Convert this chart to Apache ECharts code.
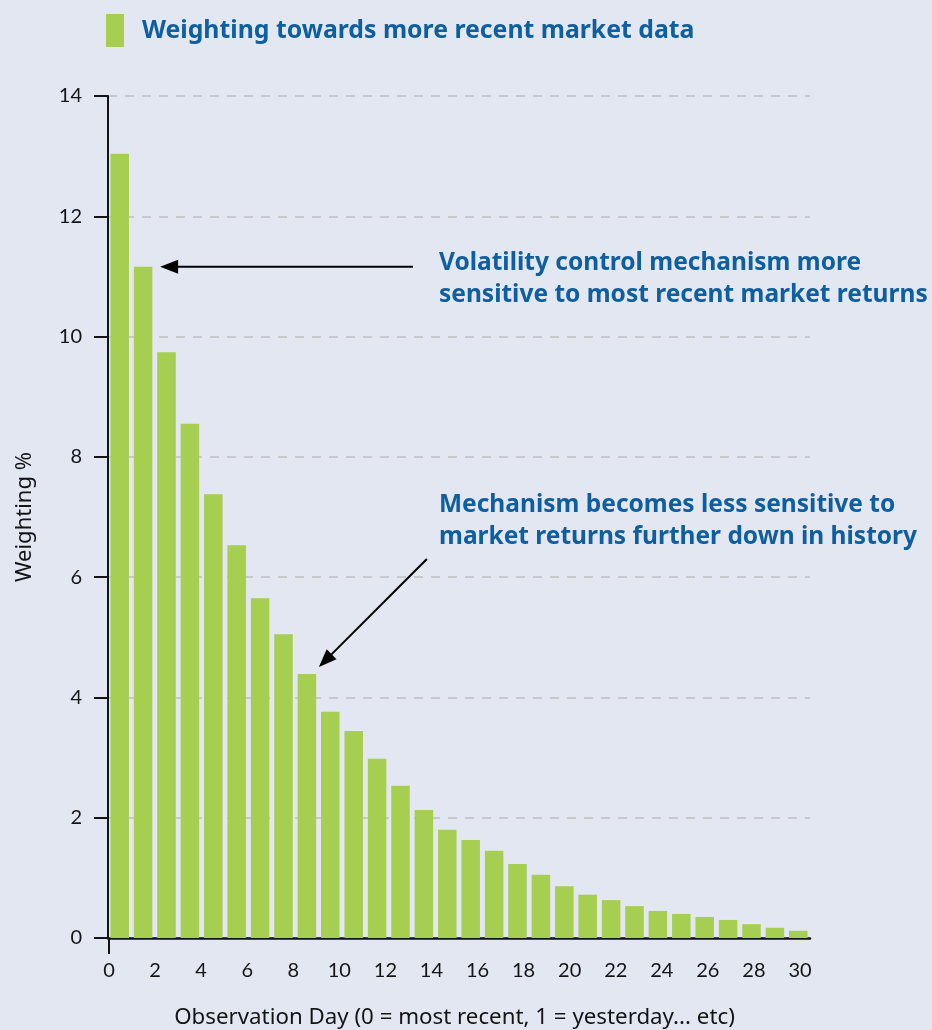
<!DOCTYPE html>
<html>
<head>
<meta charset="utf-8">
<script src="https://cdn.jsdelivr.net/npm/echarts@6/dist/echarts.min.js"></script>
<style>
  html, body { margin: 0; padding: 0; background: #e3e7f2; }
  #chart { width: 932px; height: 1030px; }
</style>
</head>
<body>
<div id="chart"></div>
<script>
const BLUE = '#0f5fa0';
const GREEN = '#a6ce50';
const INK = '#141414';
const FONT = 'Lato, "Noto Sans", sans-serif';
const WIDE_FONT = '"Noto Sans", Lato, sans-serif';

// observation days, one bar each
const DAYS = ['0', '1', '2', '3', '4', '5', '6', '7', '8', '9',
  '10', '11', '12', '13', '14', '15', '16', '17', '18', '19',
  '20', '21', '22', '23', '24', '25', '26', '27', '28', '29'];

// weighting %
const WEIGHTS = [13.04, 11.16, 9.74, 8.55, 7.38, 6.53, 5.65, 5.05, 4.39, 3.76,
  3.44, 2.98, 2.53, 2.13, 1.80, 1.63, 1.45, 1.23, 1.05, 0.86,
  0.72, 0.63, 0.53, 0.45, 0.40, 0.35, 0.30, 0.23, 0.17, 0.12];

const X_TICKS = [0, 2, 4, 6, 8, 10, 12, 14, 16, 18, 20, 22, 24, 26, 28, 30];
const Y_TICKS = [0, 2, 4, 6, 8, 10, 12, 14];

const LEGEND_TEXT = 'Weighting towards more recent market data';
const NOTE_RECENT = 'Volatility control mechanism more\nsensitive to most recent market returns';
const NOTE_HISTORY = 'Mechanism becomes less sensitive to\nmarket returns further down in history';

let chart = echarts.init(document.getElementById('chart'), null, { renderer: 'canvas' });

let option = {
  backgroundColor: '#e3e7f2',
  animation: false,
  textStyle: { fontFamily: FONT },
  legend: {
    left: 106,
    top: 14,
    padding: 0,
    itemWidth: 18,
    itemHeight: 33,
    icon: 'rect',
    data: [LEGEND_TEXT],
    textStyle: {
      color: BLUE,
      fontSize: 24.8,
      fontWeight: 'bold',
      fontFamily: WIDE_FONT,
      padding: [0, 0, 0, 13]
    }
  },
  grid: [
    { left: 108, top: 96, width: 702, height: 842 },
    { left: 109, top: 938, width: 691, height: 1 }
  ],
  xAxis: [
    {
      type: 'category',
      gridIndex: 0,
      data: DAYS,
      boundaryGap: true,
      axisLine: { lineStyle: { color: INK, width: 2.5 } },
      axisTick: { show: false },
      axisLabel: { show: false }
    },
    {
      type: 'value',
      gridIndex: 1,
      min: X_TICKS[0],
      max: X_TICKS[X_TICKS.length - 1],
      position: 'bottom',
      axisLine: { show: false },
      splitLine: { show: false },
      axisTick: {
        show: true,
        customValues: [0],
        length: 15,
        lineStyle: { color: INK, width: 2 }
      },
      axisLabel: {
        customValues: X_TICKS,
        color: INK,
        fontSize: 20,
        fontFamily: FONT,
        margin: 22
      },
      name: 'Observation Day (0 = most recent, 1 = yesterday... etc)',
      nameLocation: 'middle',
      nameGap: 68,
      nameTextStyle: { color: INK, fontSize: 22.3, fontFamily: WIDE_FONT }
    }
  ],
  yAxis: [
    {
      type: 'value',
      gridIndex: 0,
      min: Y_TICKS[0],
      max: Y_TICKS[Y_TICKS.length - 1],
      interval: 2,
      axisLine: { show: true, lineStyle: { color: INK, width: 2 } },
      axisTick: { show: true, length: 14, lineStyle: { color: INK, width: 2 } },
      axisLabel: { color: INK, fontSize: 20, fontFamily: FONT, margin: 26 },
      splitLine: {
        show: true,
        lineStyle: { color: '#c8c9cc', width: 2, type: [9, 8] }
      },
      name: 'Weighting %',
      nameLocation: 'middle',
      nameGap: 72,
      nameRotate: 90,
      nameTextStyle: { color: INK, fontSize: 22, fontFamily: WIDE_FONT }
    },
    {
      type: 'value',
      gridIndex: 1,
      show: false
    }
  ],
  series: [
    {
      name: LEGEND_TEXT,
      type: 'bar',
      xAxisIndex: 0,
      yAxisIndex: 0,
      data: WEIGHTS,
      barWidth: 18.5,
      itemStyle: { color: GREEN }
    }
  ]
};

chart.setOption(option);

function arrow(tail, tip) {
  let dx = tip[0] - tail[0];
  let dy = tip[1] - tail[1];
  let len = Math.sqrt(dx * dx + dy * dy);
  let ux = dx / len, uy = dy / len;
  let headLen = 18, halfW = 7;
  let base = [tip[0] - ux * headLen, tip[1] - uy * headLen];

  return [
    {
      type: 'line',
      shape: { x1: tail[0], y1: tail[1], x2: base[0] + ux * 2, y2: base[1] + uy * 2 },
      style: { stroke: '#000', lineWidth: 2 },
      z: 10
    },
    {
      type: 'polygon',
      shape: {
        points: [
          tip,
          [base[0] - uy * halfW, base[1] + ux * halfW],
          [base[0] + uy * halfW, base[1] - ux * halfW]
        ]
      },
      style: { fill: '#000' },
      z: 10
    }
  ];
}

// arrow tips hang off the tops of bar 1 and bar 8
let top1 = chart.convertToPixel({ xAxisIndex: 0, yAxisIndex: 0 }, [1, WEIGHTS[1]]);
let top8 = chart.convertToPixel({ xAxisIndex: 0, yAxisIndex: 0 }, [8, WEIGHTS[8]]);

let tip1 = [top1[0] + 17, top1[1]];
let tip2 = [top8[0] + 12, top8[1] - 7];

chart.setOption({
  graphic: [
    ...arrow([413, tip1[1]], tip1),
    ...arrow([tip2[0] + 108, tip2[1] - 108], tip2),
    {
      type: 'text',
      left: 439,
      top: 247,
      z: 10,
      style: {
        text: NOTE_RECENT,
        fill: BLUE,
        font: 'bold 24.5px ' + WIDE_FONT,
        lineHeight: 32
      }
    },
    {
      type: 'text',
      left: 439,
      top: 489,
      z: 10,
      style: {
        text: NOTE_HISTORY,
        fill: BLUE,
        font: 'bold 24.5px ' + WIDE_FONT,
        lineHeight: 32
      }
    }
  ]
});
</script>
</body>
</html>
